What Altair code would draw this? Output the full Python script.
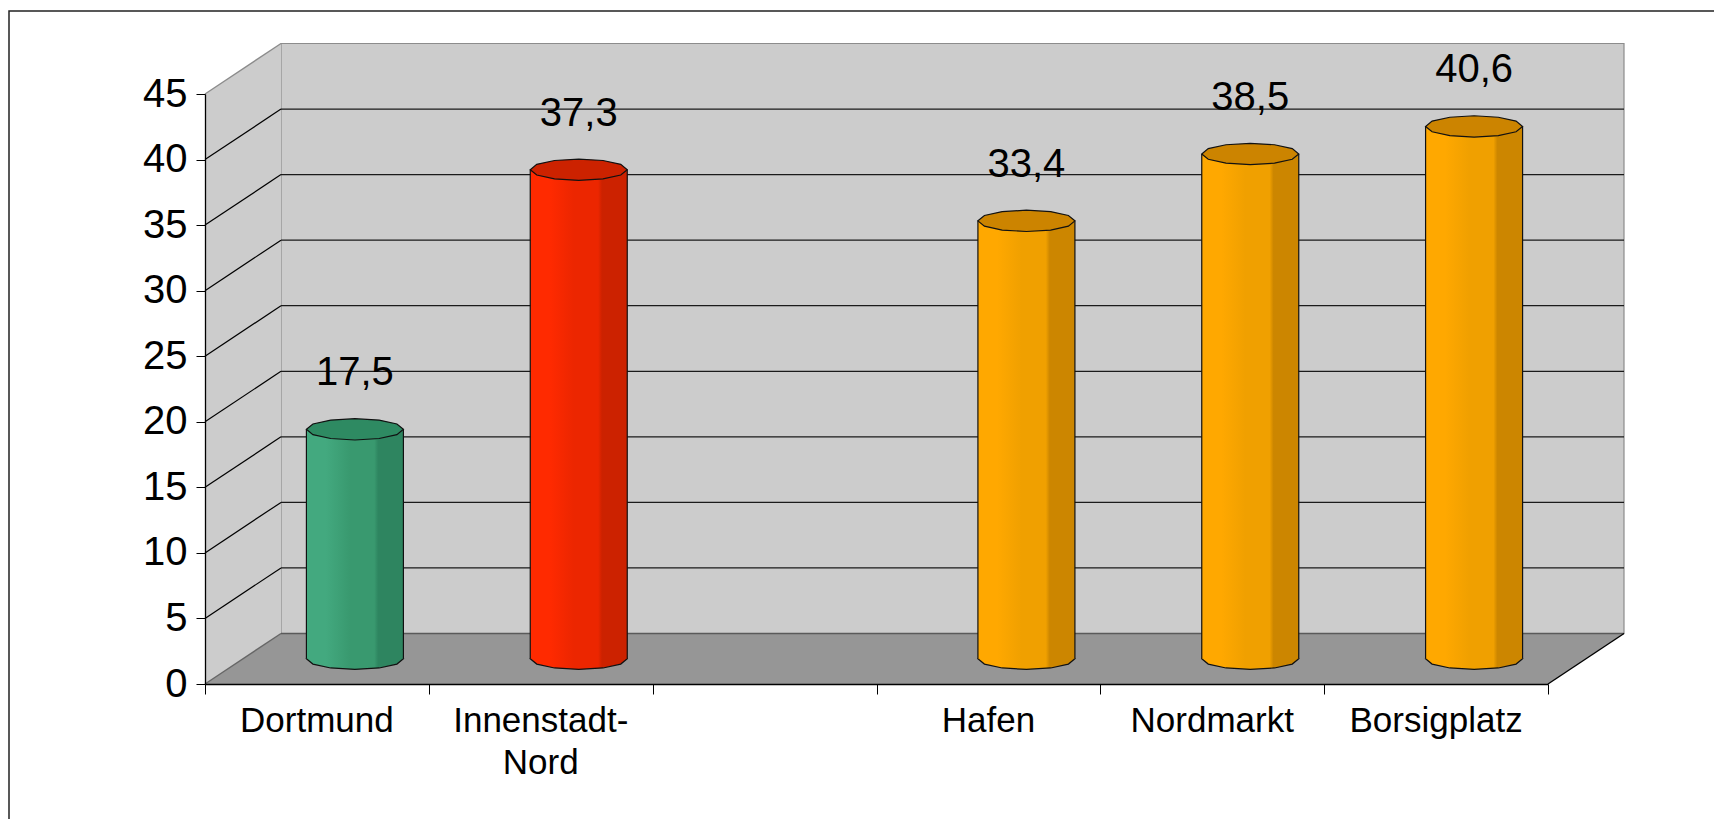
import altair as alt
import pandas as pd

# ---------------- data ----------------
categories = ["Dortmund", "Innenstadt-Nord", "", "Hafen", "Nordmarkt", "Borsigplatz"]
values = [17.5, 37.3, None, 33.4, 38.5, 40.6]
groups = ["Stadt", "Stadtbezirk", None, "Stadtteil", "Stadtteil", "Stadtteil"]
value_labels = ["17,5", "37,3", "", "33,4", "38,5", "40,6"]
y_ticks = [0, 5, 10, 15, 20, 25, 30, 35, 40, 45]

# ---------------- layout / style ----------------
FONT = "Liberation Sans"
W, H = 1343, 590
N = len(categories)
Y_MAX = 45
DEPTH_X = 76 / W * N          # 3D depth in x-scale units
DEPTH_Y = 50.5 / H * Y_MAX    # 3D depth in y-scale units
BAR_W = 97                    # cylinder diameter in px
HALF_W = BAR_W / 2 / W * N
ELLIPSE = ("M -1 0 L -0.866 0.11 L -0.5 0.19 L 0 0.22 L 0.5 0.19 L 0.866 0.11 L 1 0 "
           "L 0.866 -0.11 L 0.5 -0.19 L 0 -0.22 L -0.5 -0.19 L -0.866 -0.11 Z")

palette = {
    "Stadt": dict(light="#43A97F", mid="#39996F", dark="#2E8560", top="#2E8A62"),
    "Stadtbezirk": dict(light="#FF2A00", mid="#EC2600", dark="#CC2200", top="#CC2200"),
    "Stadtteil": dict(light="#FFA800", mid="#F0A000", dark="#CC8600", top="#CC8400"),
}

x_scale = alt.Scale(domain=[0, N], nice=False, zero=False)
y_scale = alt.Scale(domain=[0, Y_MAX], nice=False, zero=False)

AX_X = alt.Axis(values=list(range(N + 1)), labels=False, tickSize=10, tickColor="black",
                domainColor="black", domainWidth=1.3, tickWidth=1, grid=False, title=None,
                zindex=1)
AX_Y = alt.Axis(values=y_ticks, tickSize=9, tickColor="black", domainColor="black",
                domainWidth=1.3, tickWidth=1, grid=False, title=None, labelFont=FONT,
                labelFontSize=40, labelColor="black", labelPadding=9, labelFlush=False,
                labelOverlap=False, zindex=1)


def X(field):
    return alt.X(field, type="quantitative", scale=x_scale, axis=AX_X)


def Y(field):
    return alt.Y(field, type="quantitative", scale=y_scale, axis=AX_Y)


# ---------------- derived tables ----------------
bar_rows = []
for i, (c, v, g, l) in enumerate(zip(categories, values, groups, value_labels)):
    if v is None:
        continue
    xc = i + 0.5 + DEPTH_X / 2
    bar_rows.append(dict(cat=c, value=v, group=g, label=l, xc=xc,
                         xl=xc - HALF_W, xr=xc + HALF_W,
                         ybase=DEPTH_Y / 2, ytop=v + DEPTH_Y / 2))
bars = pd.DataFrame(bar_rows)

cats = pd.DataFrame({"cat": categories, "xm": [i + 0.5 for i in range(N)]})

inner = [t for t in y_ticks if 0 < t < Y_MAX]
grid = pd.DataFrame({"y": inner, "y2": [t + DEPTH_Y for t in inner],
                     "x0": 0.0, "x1": DEPTH_X, "x2": N + DEPTH_X})

one = pd.DataFrame({"a": [0]})

# ---------------- layers ----------------
frame = alt.Chart(one).mark_rect(fill="transparent", stroke="#222222", strokeWidth=1.5).encode(
    x=alt.value(-196), x2=alt.value(1510), y=alt.value(-83), y2=alt.value(745))

wall_df = pd.DataFrame({"x": [DEPTH_X], "x2": [N + DEPTH_X], "y": [DEPTH_Y], "y2": [Y_MAX + DEPTH_Y]})
back_wall = alt.Chart(wall_df).mark_rect(fill="#CCCCCC", stroke="#8C8C8C", strokeWidth=1.2).encode(
    x=X("x"), x2="x2", y=Y("y"), y2="y2")

left_df = pd.DataFrame({"x": [0, DEPTH_X], "y": [0, DEPTH_Y], "y2": [Y_MAX, Y_MAX + DEPTH_Y]})
left_wall = alt.Chart(left_df).mark_area(fill="#CCCCCC", orient="vertical").encode(
    x=X("x"), y=Y("y"), y2="y2")

floor_df = pd.DataFrame({"x": [0, DEPTH_X, N, N + DEPTH_X],
                         "y": [0, 0, 0, DEPTH_Y],
                         "y2": [0, DEPTH_Y, DEPTH_Y, DEPTH_Y]})
floor = alt.Chart(floor_df).mark_area(fill="#969696", orient="vertical").encode(
    x=X("x"), y=Y("y"), y2="y2")

grid_back = alt.Chart(grid).mark_rule(color="#1A1A1A", strokeWidth=1.2).encode(
    x=X("x1"), x2="x2", y=Y("y2"), y2="y2")
grid_diag = alt.Chart(grid).mark_rule(color="#000000", strokeWidth=1.2).encode(
    x=X("x0"), x2="x1", y=Y("y"), y2="y2")

edges_df = pd.DataFrame({
    "x": [0, 0, DEPTH_X, N],
    "x2": [DEPTH_X, DEPTH_X, N + DEPTH_X, N + DEPTH_X],
    "y": [Y_MAX, 0, DEPTH_Y, 0],
    "y2": [Y_MAX + DEPTH_Y, DEPTH_Y, DEPTH_Y, DEPTH_Y],
    "kind": ["top", "floorleft", "floorback", "floorright"],
})
edge_colors = alt.Scale(domain=["top", "floorleft", "floorback", "floorright"],
                        range=["#8C8C8C", "#666666", "#5A5A5A", "#000000"])
edges = alt.Chart(edges_df).mark_rule(strokeWidth=1.4).encode(
    x=X("x"), x2="x2", y=Y("y"), y2="y2",
    color=alt.Color("kind:N", scale=edge_colors, legend=None))


def body_gradient(p):
    return alt.Gradient(
        gradient="linear", x1=0, x2=1, y1=0, y2=0,
        stops=[alt.GradientStop(color=p["light"], offset=0),
               alt.GradientStop(color=p["light"], offset=0.2),
               alt.GradientStop(color=p["mid"], offset=0.45),
               alt.GradientStop(color=p["mid"], offset=0.7),
               alt.GradientStop(color=p["dark"], offset=0.74),
               alt.GradientStop(color=p["dark"], offset=1)])


bar_layers = []
for g, p in palette.items():
    base = alt.Chart(bars).transform_filter(alt.datum.group == g)
    grad = body_gradient(p)
    bottom = base.mark_point(shape=ELLIPSE, size=BAR_W ** 2, filled=True, fill=grad,
                             stroke="#111111", strokeWidth=1.2, opacity=1).encode(
        x=X("xc"), y=Y("ybase"))
    body = base.mark_rect(fill=grad).encode(x=X("xl"), x2="xr", y=Y("ybase"), y2="ytop")
    left_edge = base.mark_rule(color="#111111", strokeWidth=1.2).encode(
        x=X("xl"), y=Y("ybase"), y2="ytop")
    right_edge = base.mark_rule(color="#111111", strokeWidth=1.2).encode(
        x=X("xr"), y=Y("ybase"), y2="ytop")
    top = base.mark_point(shape=ELLIPSE, size=BAR_W ** 2, filled=True, fill=p["top"],
                          stroke="#111111", strokeWidth=1.2, opacity=1).encode(
        x=X("xc"), y=Y("ytop"))
    bar_layers += [bottom, body, left_edge, right_edge, top]

value_text = alt.Chart(bars).mark_text(
    font=FONT, fontSize=40, color="black", baseline="alphabetic", align="center", dy=-44).encode(
    x=X("xc"), y=Y("ytop"), text="label:N")

cat_text = alt.Chart(cats).transform_calculate(
    disp="replace(datum.cat, '-', '-\\n')"
).mark_text(font=FONT, fontSize=35, color="black", baseline="alphabetic", align="center",
            lineBreak="\n", lineHeight=42).encode(
    x=X("xm"), y=alt.value(638), text="disp:N")

chart = alt.layer(
    frame, back_wall, left_wall, floor, grid_back, grid_diag, edges,
    *bar_layers, value_text, cat_text
).properties(
    width=W, height=H,
    autosize=alt.AutoSizeParams(type="none"),
    padding={"left": 197, "top": 86, "right": 166, "bottom": 135},
    background="white",
).configure_view(strokeOpacity=0)

chart.save("out.html", embed_options={"renderer": "svg", "actions": False})
